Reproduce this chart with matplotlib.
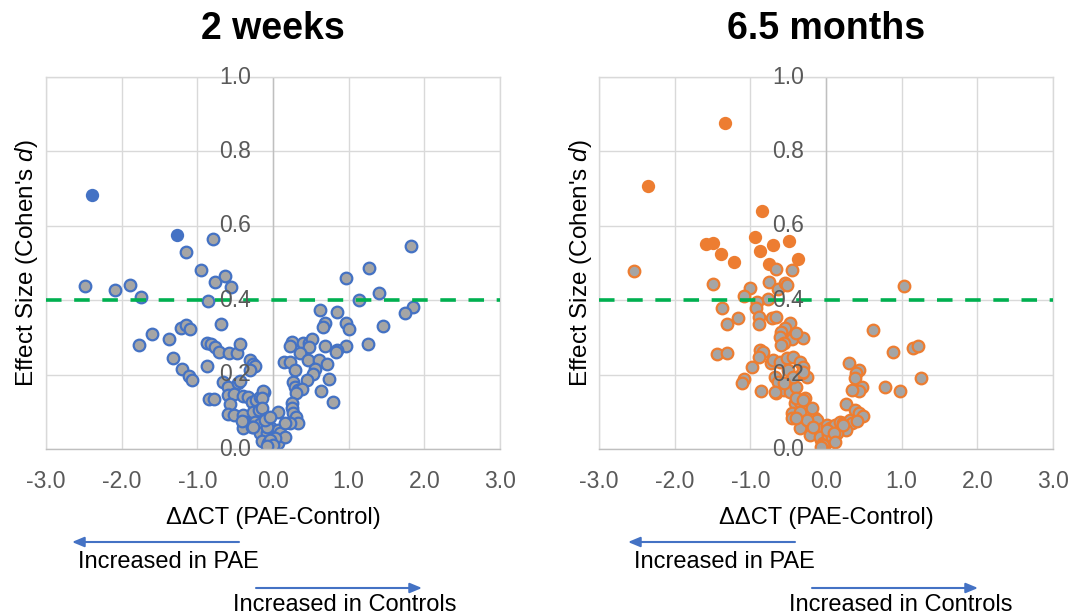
import matplotlib
matplotlib.use('Agg')
import matplotlib.pyplot as plt
from matplotlib.transforms import offset_copy

plt.rcParams['font.family'] = ['Liberation Sans', 'DejaVu Sans']
plt.rcParams['mathtext.fontset'] = 'custom'
plt.rcParams['mathtext.rm'] = 'Liberation Sans'
plt.rcParams['mathtext.it'] = 'Liberation Sans:italic'

# ---------------- data ----------------
titles = ['2 weeks', '6.5 months']
x_label = 'ΔΔCT (PAE-Control)'
y_label = "Effect Size (Cohen's $\\mathit{d}$)"
x_ticks = [-3, -2, -1, 0, 1, 2, 3]
x_tick_labels = ['-3.0', '-2.0', '-1.0', '0.0', '1.0', '2.0', '3.0']
y_ticks = [0.0, 0.2, 0.4, 0.6, 0.8, 1.0]
y_tick_labels = ['0.0', '0.2', '0.4', '0.6', '0.8', '1.0']
threshold = 0.4
arrow_labels = ['Increased in PAE', 'Increased in Controls']

# 2 weeks: highlighted (solid) genes
wk2_sig_x = [-2.39, -1.27]
wk2_sig_y = [0.684, 0.575]
# 2 weeks: other genes
wk2_x = [-2.49, -2.09, -1.89, -1.75, -1.77, -1.60, -1.38, -1.32, -1.22, -1.15,
         -1.10, -1.20, -1.11, -1.07, -1.15, -0.95, -0.79, -0.76, -0.63, -0.55,
         -0.86, -0.69, -0.87, -0.82, -0.77, -0.71, -0.58, -0.47, -0.43, -0.87,
         -0.85, -0.78, -0.30, -0.27, -0.24, -0.30, -0.66, -0.59, -0.46, -0.43,
         -0.59, -0.52, -0.57, -0.39, -0.33, -0.28, -0.22, -0.17, -0.12, -0.59,
         -0.52, -0.39, -0.26, -0.19, -0.37, -0.24, -0.08, -0.39, -0.28, -0.17,
         -0.17, -0.08, -0.02, 0.06, -0.15, -0.06, 0.00, 0.07, 0.07, -0.13,
         -0.15, -0.15, -0.08, -0.08, 0.09, 0.16, 0.03, -0.04, 0.00, -0.08,
         -0.41, -0.26, -0.11, -0.04,
         1.83, 1.27, 0.96, 1.40, 1.14, 1.85, 1.75, 0.62, 0.85, 0.69,
         0.66, 0.97, 1.00, 1.46, 1.26, 0.96, 0.85, 0.83, 0.69, 0.25,
         0.23, 0.40, 0.48, 0.51, 0.47, 0.36, 0.14, 0.22, 0.46, 0.61,
         0.71, 0.29, 0.55, 0.53, 0.45, 0.74, 0.63, 0.79, 0.27, 0.29,
         0.33, 0.38, 0.31, 0.25, 0.25, 0.27, 0.30, 0.33, 0.23, 0.16]
wk2_y = [0.439, 0.427, 0.440, 0.409, 0.280, 0.309, 0.296, 0.245, 0.324, 0.333,
         0.323, 0.216, 0.196, 0.185, 0.530, 0.480, 0.564, 0.450, 0.465, 0.435,
         0.397, 0.337, 0.286, 0.282, 0.275, 0.262, 0.257, 0.257, 0.282, 0.224,
         0.135, 0.135, 0.239, 0.228, 0.223, 0.212, 0.181, 0.167, 0.177, 0.184,
         0.145, 0.147, 0.120, 0.142, 0.141, 0.127, 0.132, 0.141, 0.154, 0.094,
         0.091, 0.091, 0.100, 0.105, 0.073, 0.073, 0.078, 0.056, 0.058, 0.067,
         0.042, 0.042, 0.056, 0.051, 0.022, 0.017, 0.003, 0.017, 0.099, 0.156,
         0.136, 0.109, 0.083, 0.060, 0.042, 0.033, 0.029, 0.024, 0.011, 0.008,
         0.075, 0.060, 0.078, 0.087,
         0.545, 0.487, 0.459, 0.419, 0.400, 0.383, 0.365, 0.375, 0.369, 0.340,
         0.329, 0.339, 0.323, 0.331, 0.283, 0.278, 0.266, 0.262, 0.277, 0.288,
         0.277, 0.286, 0.284, 0.295, 0.275, 0.259, 0.233, 0.233, 0.239, 0.239,
         0.228, 0.212, 0.214, 0.202, 0.185, 0.188, 0.157, 0.127, 0.181, 0.167,
         0.159, 0.160, 0.150, 0.124, 0.109, 0.096, 0.087, 0.069, 0.069, 0.069]

# 6.5 months: highlighted (solid) genes
mo6_sig_x = [-1.33, -2.35, -0.84, -1.58, -1.50, -0.94, -0.87, -0.70, -0.49,
             -1.39, -1.22, -0.37, -0.75]
mo6_sig_y = [0.877, 0.708, 0.640, 0.551, 0.553, 0.571, 0.532, 0.548, 0.559,
             0.524, 0.503, 0.510, 0.497]
# 6.5 months: other genes
mo6_x = [-2.54, -0.66, -0.45, -1.49, -1.00, -1.08, -0.75, -0.63, -0.54, -0.51,
         -0.76, -0.91, -0.92, -0.88, -0.89, -1.37, -1.16, -1.31, -0.72, -0.66,
         -0.48, -0.54, -0.59, -0.61, -0.45, -0.31, -0.39, -0.56, -0.59, -1.44,
         -1.31, -0.87, -0.83, -0.88, -0.73, -0.70, -0.61, -0.52, -0.43, -0.34,
         -0.30, -0.98, -1.09, -1.11, -0.86, -0.67, -0.63, -0.66, -0.56, -0.48,
         -0.39, -0.25, -0.32, -0.50, -0.43, -0.30, -0.56, -0.67,
         -0.41, -0.34, -0.28, -0.25, -0.45, -0.45, -0.34, -0.21, -0.15, -0.08,
         -0.17, -0.21, -0.34, -0.08, -0.03, -0.06, 0.01, -0.39, -0.30, -0.19,
         -0.34, -0.12, -0.04, 0.01, -0.25, -0.17, -0.08, -0.04, 0.03, 0.05,
         0.12, 0.18, 0.23, 0.32, 0.34, 0.27, 0.14, 0.08, 0.01, -0.39,
         1.03, 0.62, 0.89, 1.15, 1.22, 1.26, 0.78, 0.98, 0.30, 0.44,
         0.40, 0.38, 0.47, 0.43, 0.35, 0.27, 0.38, 0.43, 0.49, 0.41,
         0.10, 0.12, -0.04, -0.06, 0.23]
mo6_y = [0.478, 0.483, 0.481, 0.443, 0.434, 0.411, 0.450, 0.430, 0.445, 0.441,
         0.402, 0.396, 0.378, 0.356, 0.336, 0.378, 0.351, 0.335, 0.351, 0.356,
         0.338, 0.324, 0.315, 0.302, 0.295, 0.298, 0.311, 0.284, 0.280, 0.255,
         0.257, 0.266, 0.262, 0.246, 0.230, 0.239, 0.235, 0.244, 0.248, 0.235,
         0.221, 0.221, 0.187, 0.177, 0.157, 0.194, 0.181, 0.150, 0.159, 0.154,
         0.167, 0.194, 0.203, 0.212, 0.194, 0.208, 0.177, 0.154,
         0.123, 0.127, 0.136, 0.109, 0.096, 0.083, 0.078, 0.091, 0.083, 0.065,
         0.056, 0.038, 0.056, 0.047, 0.008, 0.024, 0.042, 0.136, 0.132, 0.109,
         0.100, 0.078, 0.056, 0.065, 0.078, 0.060, 0.033, 0.015, 0.038, 0.056,
         0.065, 0.073, 0.069, 0.078, 0.069, 0.051, 0.042, 0.033, 0.051, 0.083,
         0.438, 0.320, 0.261, 0.271, 0.277, 0.192, 0.167, 0.156, 0.232, 0.212,
         0.203, 0.190, 0.167, 0.156, 0.159, 0.121, 0.105, 0.098, 0.089, 0.076,
         0.042, 0.020, 0.011, 0.006, 0.065]

# ---------------- figure ----------------
W, H = 1085, 616
fig = plt.figure(figsize=(W / 100, H / 100), dpi=100)

GRID = '#D9D9D9'
AXISC = '#BFBFBF'
TICKC = '#595959'
GRAY = '#A5A5A5'
GREEN = '#00B050'
BLUE = '#4472C4'
ORANGE = '#ED7D31'

panels = [
    dict(left=46, title=titles[0], gx=wk2_x, gy=wk2_y, sx=wk2_sig_x, sy=wk2_sig_y, col=BLUE),
    dict(left=599, title=titles[1], gx=mo6_x, gy=mo6_y, sx=mo6_sig_x, sy=mo6_sig_y, col=ORANGE),
]
ax_w, ax_top, ax_bot = 454, 77, 449

for p in panels:
    ax = fig.add_axes([p['left'] / W, 1 - ax_bot / H, ax_w / W, (ax_bot - ax_top) / H])
    ax.set_xlim(-3, 3)
    ax.set_ylim(0, 1)
    ax.set_xticks(x_ticks)
    ax.set_xticklabels(x_tick_labels)
    ax.set_yticks(y_ticks)
    ax.tick_params(axis='y', left=False, labelleft=False)
    ax.tick_params(axis='x', length=0, pad=15, labelsize=16.5, labelcolor=TICKC)
    ax.set_axisbelow(True)
    ax.grid(True, color=GRID, lw=1.0)
    for s in ax.spines.values():
        s.set_color(GRID)
        s.set_linewidth(1.0)
    ax.spines['bottom'].set_color(AXISC)
    ax.axvline(0, color=AXISC, lw=1.0, zorder=1)

    ax.scatter(p['sx'], p['sy'], s=92, c=p['col'], linewidths=0, zorder=2)
    ax.scatter(p['gx'], p['gy'], s=70, c=GRAY, edgecolors=p['col'], linewidths=1.6, zorder=2)
    ax.axhline(threshold, color=GREEN, lw=2.6, dashes=(4.3, 3.5), zorder=3)

    tr = offset_copy(ax.transData, fig=fig, x=-16, y=0, units='points')
    for v, lab in zip(y_ticks, y_tick_labels):
        ax.text(0, v, lab, transform=tr, ha='right', va='center', fontsize=16.5,
                color=TICKC, zorder=5, clip_on=False)

    ax.set_xlabel(x_label, fontsize=17, labelpad=10, color='black')

    cx = p['left'] + ax_w / 2
    fig.text(cx / W, 1 - 39 / H, p['title'], ha='center', va='baseline',
             fontsize=27, fontweight='bold')
    fig.text((p['left'] - 19) / W, 1 - 263 / H, y_label, rotation=90,
             ha='center', va='center', fontsize=17.5)

    off = p['left'] - 46 + (3 if p['left'] > 100 else 0)
    ax.annotate('', xy=(72 + off, H - 542), xytext=(239 + off, H - 542),
                xycoords='figure pixels', textcoords='figure pixels',
                arrowprops=dict(arrowstyle='-|>,head_length=0.6,head_width=0.25',
                                color=BLUE, lw=1.5, mutation_scale=12,
                                shrinkA=0, shrinkB=0))
    ax.annotate('', xy=(422 + off, H - 588), xytext=(256 + off, H - 588),
                xycoords='figure pixels', textcoords='figure pixels',
                arrowprops=dict(arrowstyle='-|>,head_length=0.6,head_width=0.25',
                                color=BLUE, lw=1.5, mutation_scale=12,
                                shrinkA=0, shrinkB=0))
    fig.text((78 + off) / W, 1 - 562 / H, arrow_labels[0], ha='left', va='center',
             fontsize=17)
    fig.text((233 + off) / W, 1 - 605 / H, arrow_labels[1], ha='left', va='center',
             fontsize=17)

fig.savefig('out.png', dpi=100)
